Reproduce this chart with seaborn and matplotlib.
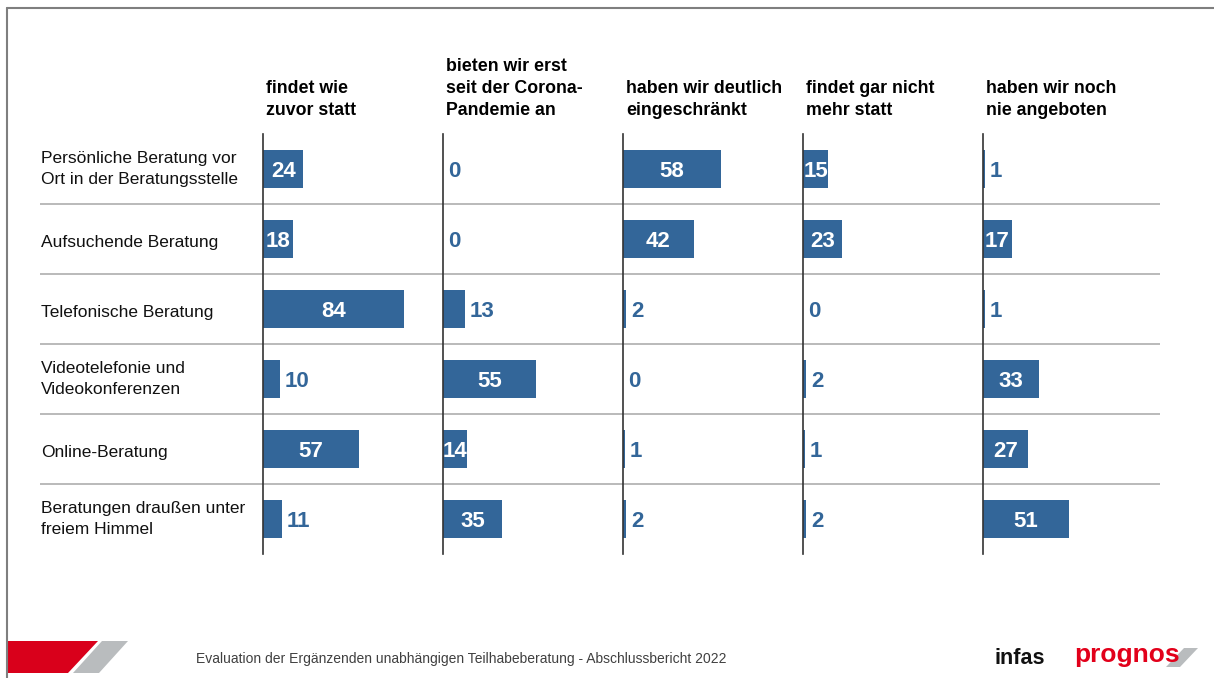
import numpy as np
import pandas as pd
import matplotlib
matplotlib.use("Agg")
import matplotlib.pyplot as plt
from matplotlib.patches import Polygon
from matplotlib.lines import Line2D
import matplotlib.transforms as mtransforms
import seaborn as sns

# Data
categories = [
    "Persönliche Beratung vor\nOrt in der Beratungsstelle",
    "Aufsuchende Beratung",
    "Telefonische Beratung",
    "Videotelefonie und\nVideokonferenzen",
    "Online-Beratung",
    "Beratungen draußen unter\nfreiem Himmel",
]
headers = [
    "findet wie\nzuvor statt",
    "bieten wir erst\nseit der Corona-\nPandemie an",
    "haben wir deutlich\neingeschränkt",
    "findet gar nicht\nmehr statt",
    "haben wir noch\nnie angeboten",
]
wie_zuvor = [24, 18, 84, 10, 57, 11]
seit_corona = [0, 0, 13, 55, 14, 35]
eingeschraenkt = [58, 42, 2, 0, 1, 2]
nicht_mehr = [15, 23, 0, 2, 1, 2]
nie_angeboten = [1, 17, 1, 33, 27, 51]
footer = "Evaluation der Ergänzenden unabhängigen Teilhabeberatung - Abschlussbericht 2022"

series = [wie_zuvor, seit_corona, eingeschraenkt, nicht_mehr, nie_angeboten]
rows = []
for h, vals in zip(headers, series):
    for c, v in zip(categories, vals):
        rows.append({"antwort": h, "kategorie": c, "wert": v})
df = pd.DataFrame(rows)

sns.set_theme(style="white")
plt.rcParams["font.family"] = ["Liberation Sans", "DejaVu Sans"]

BLUE = "#336699"
W, H = 1214, 678


def box(x0, y0, x1, y1):
    return [x0 / W, 1 - y1 / H, (x1 - x0) / W, (y1 - y0) / H]


fig = plt.figure(figsize=(W / 100, H / 100), dpi=100)

# separator lines across the whole table
bg = fig.add_axes(box(40, 134, 1160, 554))
bg.set_xlim(0, 1)
bg.set_ylim(5.5, -0.5)
bg.hlines(np.arange(0.5, 5), 0, 1, color="#b4b4b4", lw=1.3)
bg.axis("off")

for i, h in enumerate(headers):
    x0 = 263 + 180 * i
    ax = fig.add_axes(box(x0, 134, x0 + 180, 554))
    sub = df[df["antwort"] == h]
    sns.barplot(data=sub, x="wert", y="kategorie", orient="h", color=BLUE,
                saturation=1, width=0.53, errorbar=None, linewidth=0, ax=ax)
    ax.set_xlim(0, 107)
    ax.set_ylim(5.5, -0.5)
    ax.patch.set_visible(False)
    ax.set_xticks([])
    ax.set_yticks([])
    ax.set_xlabel("")
    ax.set_ylabel("")
    for s in ["top", "right", "bottom"]:
        ax.spines[s].set_visible(False)
    ax.spines["left"].set_color("#333333")
    ax.spines["left"].set_linewidth(1.2)

    off = mtransforms.offset_copy(ax.transData, fig=fig, x=5, y=0, units="dots")
    for j, v in enumerate(sub["wert"]):
        if v >= 14:
            ax.text(v / 2, j + 0.04, str(v), ha="center", va="center", color="white",
                    fontsize=16, fontweight="bold")
        else:
            ax.text(v, j + 0.04, str(v), ha="left", va="center", color=BLUE,
                    fontsize=16, fontweight="bold", transform=off)

    fig.text((x0 + 3) / W, 1 - 119 / H, h, ha="left", va="bottom",
             fontsize=12.8, fontweight="bold", color="black", linespacing=1.38)

# row labels
trans = mtransforms.blended_transform_factory(fig.transFigure, bg.transData)
for j, c in enumerate(categories):
    dy = 0.0 if "\n" in c else 0.05
    fig.text(41 / W, j + dy, c, transform=trans, ha="left", va="center",
             fontsize=12.5, color="#111111", linespacing=1.5)

# frame lines
fig.add_artist(Line2D([7 / W, 7 / W], [0, 1 - 8 / H], color="#7f7f7f", lw=1.5))
fig.add_artist(Line2D([7 / W, 1], [1 - 8 / H, 1 - 8 / H], color="#7f7f7f", lw=1.5))


def poly(pts, color, z=1):
    p = Polygon([(x / W, 1 - y / H) for x, y in pts], closed=True,
                transform=fig.transFigure, facecolor=color, edgecolor="none", zorder=z)
    fig.add_artist(p)


# footer
poly([(8, 641), (98, 641), (68, 673), (8, 673)], "#d9001b")
poly([(102, 641), (128, 641), (99, 673), (73, 673)], "#b9bcbe")
fig.text(196 / W, 1 - 659 / H, footer, ha="left", va="center", fontsize=10, color="#404040")

fig.text(994 / W, 1 - 664 / H, "infas", ha="left", va="baseline", fontsize=15.5,
         fontweight="bold", color="#111111")
poly([(1184, 648), (1198, 648), (1180, 667), (1166, 667)], "#b9bcbe", z=1)
fig.text(1074 / W, 1 - 662 / H, "prognos", ha="left", va="baseline", fontsize=19,
         fontweight="bold", color="#e2001a", zorder=3)

fig.savefig("out.png", dpi=100)
